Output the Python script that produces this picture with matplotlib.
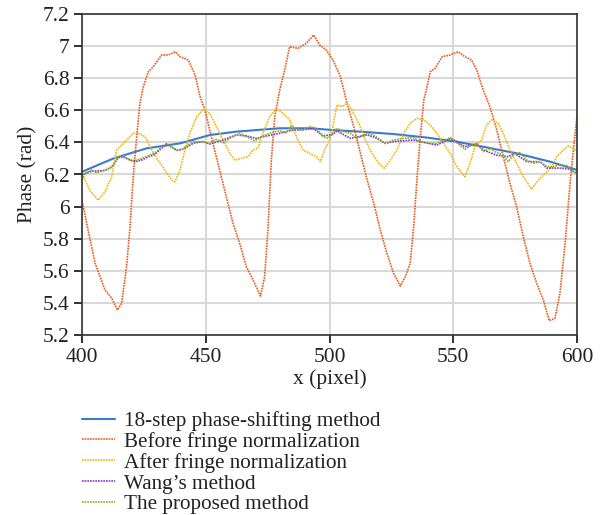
import matplotlib
matplotlib.use("Agg")
import matplotlib.pyplot as plt

plt.rcParams['font.family'] = ['Liberation Serif', 'DejaVu Serif']

# ---- data ----
x_ref = [400, 412.7, 426.1, 439.6, 451.7, 462.3, 479.9, 492, 501.4, 512.5, 525.9,
         539.4, 551.5, 562.1, 575.6, 589.1, 600]
y_ref = [6.217, 6.30, 6.363, 6.394, 6.446, 6.467, 6.488, 6.488, 6.477, 6.467, 6.452,
         6.43, 6.404, 6.373, 6.332, 6.28, 6.228]

x_before = [400, 401.9, 405.3, 409.3, 412, 414.3, 416, 418, 419.4, 420.7, 422.1, 423.4,
            424.8, 426.8, 428.8, 432.2, 434.9, 437.6, 439.6, 443, 445.7, 447.7, 449.7,
            452.9, 455.6, 458.3, 461, 463.7, 466.4, 469.1, 472.1, 473.8, 475.2, 476.5,
            477.9, 479.9, 481.9, 483.9, 487.3, 490.6, 493.6, 496, 498.7, 501.4, 504.4,
            507.1, 509.8, 512.5, 515.2, 517.9, 520.5, 523.2, 525.9, 528.6, 530.6, 532.6,
            534, 535.4, 536.7, 538.1, 539.4, 540.7, 542.7, 545.5, 548.8, 552, 554.7,
            557.4, 559.5, 562.1, 564.8, 567.6, 570.2, 572.9, 575.6, 578.3, 581, 583.7,
            586.4, 588.8, 591.1, 593.1, 595.2, 597.2, 598.8, 600]
y_before = [6.04, 5.896, 5.647, 5.48, 5.43, 5.356, 5.397, 5.626, 5.875, 6.186, 6.436, 6.644,
            6.747, 6.84, 6.872, 6.945, 6.945, 6.965, 6.934, 6.913, 6.82, 6.685, 6.60,
            6.394, 6.228, 6.062, 5.896, 5.771, 5.626, 5.543, 5.443, 5.563, 5.875, 6.29,
            6.56, 6.726, 6.851, 6.996, 6.986, 7.017, 7.069, 7.007, 6.976, 6.913, 6.81,
            6.644, 6.498, 6.332, 6.166, 6.02, 5.854, 5.709, 5.584, 5.505, 5.563, 5.647,
            5.875, 6.186, 6.436, 6.664, 6.747, 6.84, 6.862, 6.934, 6.945, 6.965, 6.934,
            6.913, 6.851, 6.726, 6.623, 6.477, 6.311, 6.145, 5.999, 5.812, 5.647, 5.522,
            5.418, 5.289, 5.304, 5.46, 5.771, 6.145, 6.394, 6.56]

x_after = [400, 403.2, 406.6, 409.3, 412, 414, 416, 418.7, 420.7, 422.7, 425.5, 427.5,
           430.2, 433.5, 436.2, 437.6, 439.6, 441.6, 443.6, 446.3, 449, 451.6, 454.3,
           457, 459.7, 461.7, 464.4, 467.1, 469.1, 471.1, 473.1, 475.8, 478.5, 481.2,
           483.9, 486.6, 489.3, 492, 494.7, 496.3, 498, 500.1, 501.4, 503, 505.1, 507.1,
           509.1, 511.8, 514.5, 517.2, 519.9, 522.1, 524.6, 527.3, 530, 532.6, 535.4,
           538.1, 540.7, 543.4, 546.1, 548.8, 551.4, 554.7, 556.8, 558.8, 561.5, 563.5,
           565.5, 568.2, 570.2, 572.9, 575.6, 578.3, 581.7, 584.4, 587.1, 589.8, 591.8,
           594.5, 596.5, 598.5, 600]
y_after = [6.207, 6.10, 6.04, 6.093, 6.186, 6.353, 6.384, 6.425, 6.457, 6.457, 6.436, 6.373,
           6.30, 6.228, 6.166, 6.155, 6.228, 6.353, 6.457, 6.56, 6.606, 6.58, 6.498,
           6.415, 6.332, 6.29, 6.30, 6.311, 6.353, 6.363, 6.457, 6.56, 6.612, 6.581,
           6.54, 6.436, 6.353, 6.332, 6.311, 6.28, 6.353, 6.415, 6.50, 6.633, 6.623, 6.644,
           6.60, 6.519, 6.415, 6.332, 6.27, 6.239, 6.29, 6.353, 6.457, 6.519, 6.55,
           6.54, 6.509, 6.457, 6.394, 6.332, 6.249, 6.186, 6.27, 6.373, 6.415, 6.509,
           6.54, 6.519, 6.457, 6.353, 6.27, 6.186, 6.108, 6.166, 6.207, 6.249, 6.311,
           6.353, 6.378, 6.363, 6.34]

x_wang = [400, 403.9, 409.3, 412, 414.7, 416.7, 419.4, 421.4, 424.1, 426.8, 429.5, 431.5,
          434.2, 436.2, 438.3, 440.3, 442.3, 445, 448.9, 451.6, 457, 462.3, 466.4, 470.5,
          474.5, 478.5, 485.2, 489.3, 493.3, 497.4, 501.4, 503, 508.4, 515.2, 518.5,
          522.5, 525.9, 530, 534, 540.1, 543.4, 548.8, 551.5, 554.7, 559.5, 562.1, 567.6,
          572.2, 574.9, 579.7, 585.1, 587.8, 593.1, 596.5, 600]
y_wang = [6.20, 6.22, 6.225, 6.245, 6.305, 6.31, 6.29, 6.28, 6.29, 6.31, 6.325, 6.355,
          6.39, 6.37, 6.35, 6.355, 6.37, 6.395, 6.405, 6.39, 6.415, 6.447, 6.44, 6.425,
          6.44, 6.452, 6.477, 6.478, 6.488, 6.44, 6.45, 6.472, 6.425, 6.447, 6.43,
          6.394, 6.405, 6.41, 6.415, 6.394, 6.383, 6.425, 6.405, 6.373, 6.39, 6.353, 6.32,
          6.311, 6.33, 6.28, 6.28, 6.24, 6.24, 6.235, 6.207]

x_prop = [400, 401.2, 403.9, 405.9, 409.3, 412, 414.7, 416.7, 419.4, 421.4, 424.1, 426.8,
          429.5, 431.5, 434.2, 436.2, 438.3, 440.3, 442.3, 445, 448.4, 451.7, 454.3,
          457, 459.7, 463.7, 466.4, 469.8, 473.1, 476.5, 479.9, 482.5, 484.6, 487.3,
          489.3, 492, 494.7, 497.4, 499.4, 503, 505.7, 508.4, 511.1, 515.2, 518.5, 522.5,
          525.9, 530, 534, 536.7, 540.1, 543.4, 546.8, 548.8, 551.4, 554.7, 557.4,
          559.5, 562.1, 564.8, 567.6, 570.2, 572.2, 574.9, 577, 579.7, 582.4, 585.1,
          587.8, 590.4, 593.1, 595.8, 598.5, 600]
y_prop = [6.166, 6.207, 6.228, 6.21, 6.228, 6.249, 6.311, 6.315, 6.29, 6.286, 6.30, 6.317,
          6.336, 6.363, 6.394, 6.373, 6.353, 6.357, 6.378, 6.404, 6.404, 6.394, 6.419,
          6.398, 6.425, 6.457, 6.436, 6.41, 6.44, 6.46, 6.473, 6.46, 6.502, 6.481,
          6.477, 6.498, 6.488, 6.436, 6.425, 6.488, 6.467, 6.457, 6.425, 6.457, 6.44, 6.394,
          6.415, 6.425, 6.43, 6.404, 6.394, 6.394, 6.415, 6.43, 6.398, 6.357, 6.384,
          6.394, 6.342, 6.363, 6.336, 6.32, 6.28, 6.332, 6.336, 6.29, 6.27, 6.28,
          6.249, 6.249, 6.26, 6.255, 6.217, 6.207]

labels = ["18-step phase-shifting method", "Before fringe normalization",
          "After fringe normalization", "Wang\u2019s method", "The proposed method"]
x_ticks = [400, 450, 500, 550, 600]
y_ticks = [5.2, 5.4, 5.6, 5.8, 6, 6.2, 6.4, 6.6, 6.8, 7, 7.2]

# ---- figure ----
fig = plt.figure(figsize=(6.02, 5.15), dpi=100)
ax = fig.add_axes([82/602, 1 - 335/515, (577-82)/602, (335-14)/515])

dot = (0, (1.0, 0.6))
h1, = ax.plot(x_ref, y_ref, color='#3a7bd0', lw=1.5, solid_capstyle='round')
h2, = ax.plot(x_before, y_before, color='#e85a1f', lw=1.2, ls=dot)
h3, = ax.plot(x_after, y_after, color='#f5b511', lw=1.2, ls=dot)
h4, = ax.plot(x_wang, y_wang, color='#8e2cd6', lw=1.2, ls=dot)
h5, = ax.plot(x_prop, y_prop, color='#7fb51f', lw=1.2, ls=dot)

ax.set_xlim(400, 600)
ax.set_ylim(5.2, 7.2)
ax.set_xticks(x_ticks)
ax.set_xticklabels([str(v) for v in x_ticks])
ax.set_yticks(y_ticks)
ax.set_yticklabels([('%g' % v) for v in y_ticks])
ax.grid(True, color='#d9d9d9', lw=1.5)
ax.set_axisbelow(True)
for s in ax.spines.values():
    s.set_color('#333333')
    s.set_linewidth(1.2)
ax.tick_params(axis='both', direction='out', length=6, width=1.3, color='#222222',
               labelsize=15.5, labelcolor='#222222', pad=3)
ax.set_xlabel('x (pixel)', fontsize=15.5, color='#222222', labelpad=2)
ax.set_ylabel('Phase (rad)', fontsize=15.5, color='#222222', labelpad=4)

fig.legend([h1, h2, h3, h4, h5], labels, loc='upper left',
           bbox_to_anchor=(82/602, 1 - 411/515), frameon=False, fontsize=15.2,
           borderaxespad=0, borderpad=0, handlelength=1.56, handletextpad=0.43,
           labelspacing=0.05, labelcolor='#222222')

fig.savefig('out.png', dpi=100)
